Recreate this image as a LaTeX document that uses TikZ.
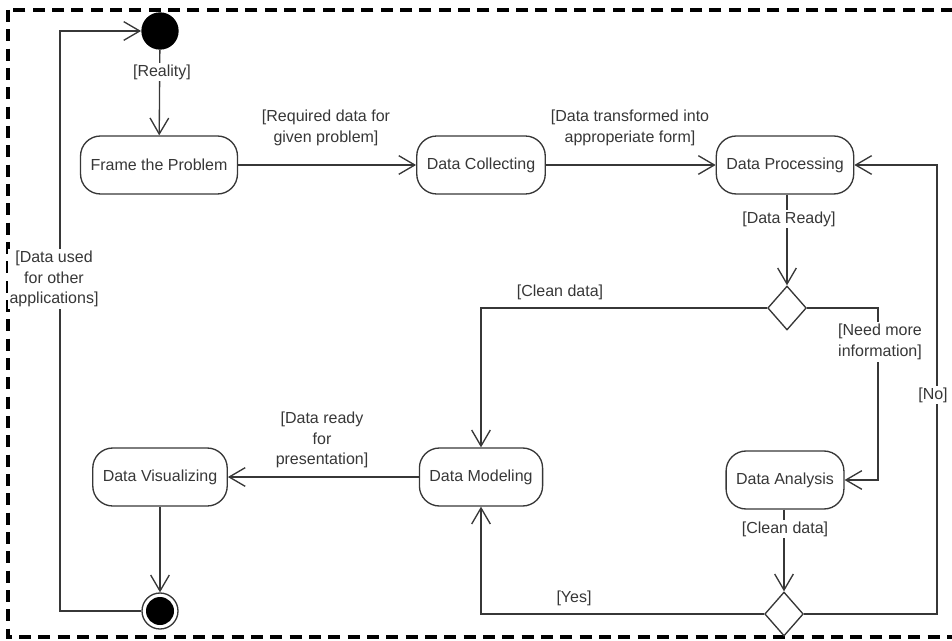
\documentclass[tikz,border=0pt]{standalone}
\usepackage{fontspec}
\setmainfont{Liberation Sans}
\usetikzlibrary{shapes.geometric,arrows.meta}

\definecolor{umlgray}{RGB}{55,55,55}

\tikzset{
  activity/.style={draw=umlgray, line width=1pt, rounded corners=15pt,
    minimum height=43.5pt, inner xsep=7.5pt, text=umlgray,
    font=\fontsize{12}{14}\selectfont},
  decision/.style={diamond, draw=umlgray, line width=1pt, fill=white,
    minimum width=29pt, minimum height=33pt, inner sep=0pt},
  guard/.style={text=umlgray, font=\fontsize{12}{15.5}\selectfont,
    align=center, inner sep=1.5pt},
  flow/.style={draw=umlgray, line width=1pt,
    -{Straight Barb[length=12pt,width=14pt,line width=1pt]}},
  plain/.style={draw=umlgray, line width=1pt},
}

\begin{document}
\begin{tikzpicture}[x=0.75pt,y=0.75pt,yscale=-1]
\useasboundingbox (0,0) rectangle (952,641);
\clip (0,0) rectangle (952,641);

%Dashed frame
\draw [line width=2.6pt, dash pattern=on 9pt off 5.5pt] (8,10) rectangle (975,637);

%Initial and final nodes
\node [circle, fill=black, minimum size=28pt, inner sep=0pt] (start) at (160,31) {};
\node [circle, draw=umlgray, line width=1pt, minimum size=27pt, inner sep=0pt] (stop) at (160,611) {};
\fill [black] (stop.center) circle (10.5pt);

%Activities
\node [activity] (frame) at (159,165) {Frame the Problem};
\node [activity] (collect) at (481,165) {Data Collecting};
\node [activity] (process) at (785,165) {Data Processing};
\node [activity] (model) at (481,477) {Data Modeling};
\node [activity] (visual) at (160,477) {Data Visualizing};
\node [activity] (analysis) at (785,480) {Data Analysis};

%Decisions
\node [decision] (ready) at (787,308) {};
\node [decision] (clean) at (784,614) {};

%Turning points
\coordinate (needturn) at (878,480);
\coordinate (noturn) at (937,165);
\coordinate (backdown) at (60,611);
\coordinate (backup) at (60,31);

%Flows
\draw [flow] (start) -- (frame);
\draw [flow] (frame) -- (collect);
\draw [flow] (collect) -- (process);
\draw [flow] (process.south -| ready.north) -- (ready.north);
\draw [flow] (ready.west) -| (model.north);
\draw [flow] (ready.east) -| (needturn) -- (analysis.east);
\draw [flow] (analysis.south -| clean.north) -- (clean.north);
\draw [flow] (clean.west) -| (model.south);
\draw [flow] (clean.east) -| (noturn) -- (process.east);
\draw [flow] (model) -- (visual);
\draw [flow] (visual) -- (stop);
\draw [flow] (stop.west) -- (backdown) -- (backup) -- (start.west);

%Guards
\node [guard, fill=white] (greality) at (162,72) {[Reality]};
\node [guard] (grequired) at (326,128) {[Required data for\\ given problem]};
\node [guard] (gtransform) at (630,128) {[Data transformed into\\ approperiate form]};
\node [guard, fill=white] (gready) at (789,219) {[Data Ready]};
\node [guard] (gclean) at (560,292) {[Clean data]};
\node [guard, fill=white] (gneed) at (880,342) {[Need more\\ information]};
\node [guard, fill=white] (gno) at (933,395) {[No]};
\node [guard, fill=white] (gcleaned) at (785,529) {[Clean data]};
\node [guard] (gyes) at (574,598) {[Yes]};
\node [guard] (gpresent) at (322,440) {[Data ready\\ for\\ presentation]};
\node [guard, fill=white] (gused) at (54,279) {[Data used\\ for other\\ applications]};

\end{tikzpicture}
\end{document}
